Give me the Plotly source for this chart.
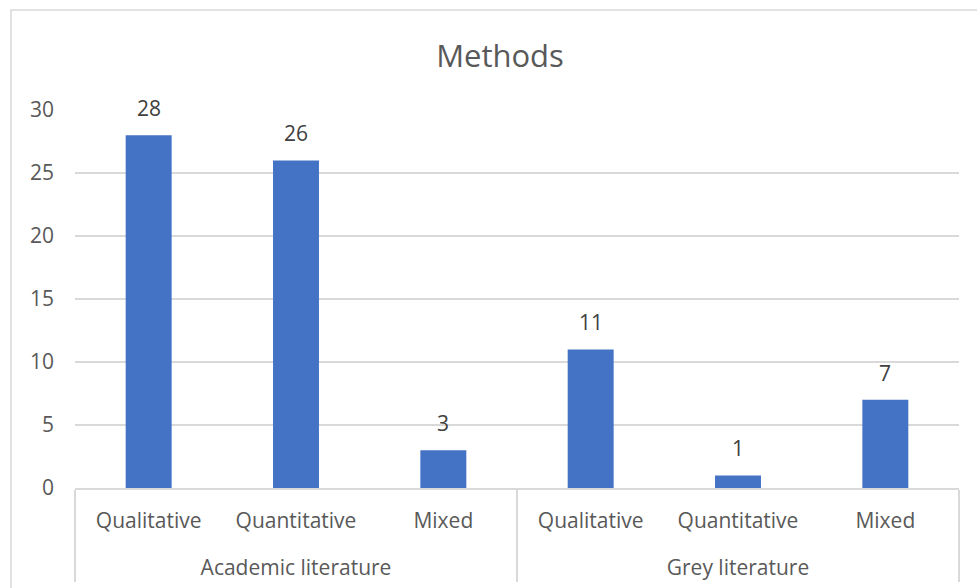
import plotly.graph_objects as go

# Number of sources by method, split by literature type
groups = ["Academic literature", "Academic literature", "Academic literature",
          "Grey literature", "Grey literature", "Grey literature"]
methods = ["Qualitative", "Quantitative", "Mixed",
           "Qualitative", "Quantitative", "Mixed"]
counts = [28, 26, 3, 11, 1, 7]
y_ticks = [0, 5, 10, 15, 20, 25, 30]

W, H = 977, 588
ML, MR, MT, MB = 75, 18, 110, 100
FONT = "Open Sans"
GRID = "#d9d9d9"
TEXT = "#595959"

# an empty second line under each method name adds room
# between the two label rows of the category axis
method_labels = [m + "<br><span style='font-size:32px'> </span>" for m in methods]

fig = go.Figure()
fig.add_trace(go.Bar(
    x=[groups, method_labels],
    y=counts,
    marker=dict(color="#4472C4", line=dict(width=0)),
    hoverinfo="skip",
))

# value labels above each bar
for i, v in enumerate(counts):
    fig.add_annotation(
        x=i, y=v, xref="x", yref="y",
        text=str(v), showarrow=False,
        yanchor="bottom", yshift=11,
        font=dict(family=FONT, size=21, color="#404040"),
    )

# chart frame
plot_w = W - ML - MR
plot_h = H - MT - MB
fig.add_shape(
    type="rect", xref="paper", yref="paper",
    x0=(11 - ML) / plot_w, x1=1.2,
    y0=-0.6, y1=(H - MB - 10) / plot_h,
    line=dict(color=GRID, width=1.5),
    fillcolor="rgba(0,0,0,0)", layer="below",
)

fig.update_layout(
    width=W, height=H,
    margin=dict(l=ML, r=MR, t=MT, b=MB),
    paper_bgcolor="white", plot_bgcolor="white",
    showlegend=False,
    bargap=0.688,
    title=dict(
        text="Methods",
        x=500 / W, xref="container", xanchor="center",
        y=1 - 56 / H, yref="container", yanchor="middle",
        font=dict(family=FONT, size=31, color=TEXT),
    ),
    font=dict(family=FONT, size=21, color=TEXT),
)

fig.update_xaxes(
    type="multicategory", automargin=False,
    showline=True, linecolor=GRID, linewidth=1.5,
    showgrid=False, zeroline=False,
    ticks="", ticklabelstandoff=13,
    showdividers=True, dividercolor=GRID, dividerwidth=1.5,
    tickfont=dict(family=FONT, size=21, color=TEXT),
)
fig.update_yaxes(
    range=[0, 30], tickvals=y_ticks, automargin=False,
    showgrid=True, gridcolor=GRID, gridwidth=1.5,
    zeroline=False, showline=False,
    ticks="", ticklabelstandoff=20,
    tickfont=dict(family=FONT, size=21, color=TEXT),
    fixedrange=True,
)

fig.write_html("out.html")
